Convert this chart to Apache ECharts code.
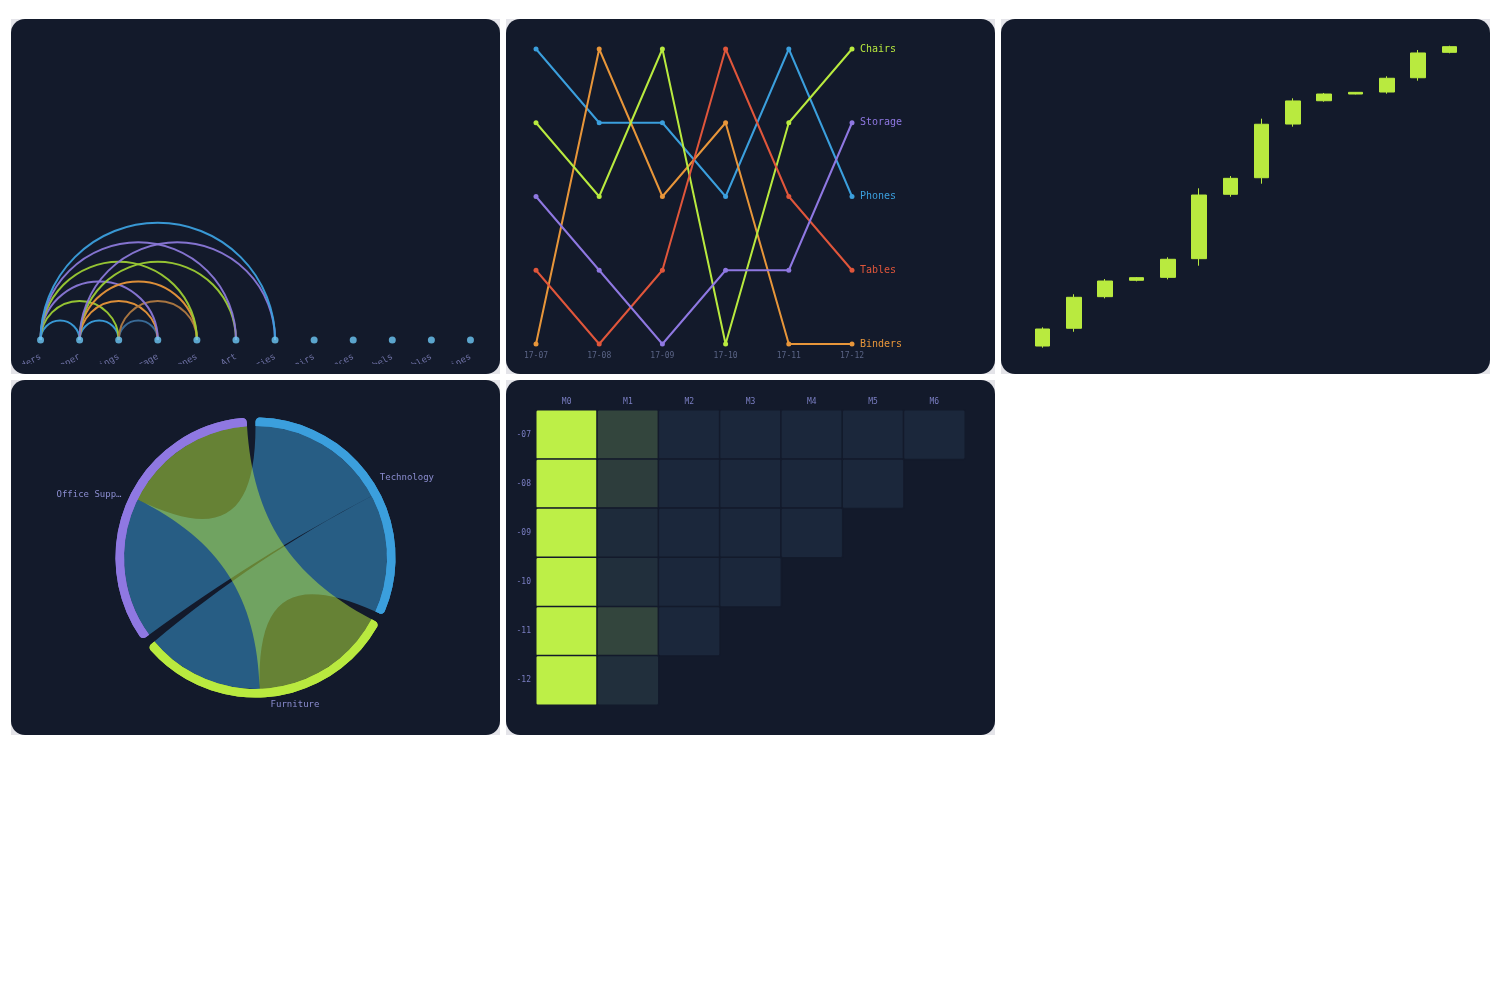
<!DOCTYPE html>
<html><head><meta charset="utf-8">
<script src="https://cdn.jsdelivr.net/npm/echarts@6/dist/echarts.min.js"></script>
<style>
html,body{margin:0;padding:0;background:#fff;width:1500px;height:1000px;overflow:hidden}
.cell{position:absolute;width:489px;height:355px;background:#e4e4e9}
.card{position:absolute;left:0;top:0;width:489px;height:355px;border-radius:14px;background:#131a2b;padding:10px;box-sizing:border-box}
.chart{width:469px;height:335px}
</style></head><body>
<div class="cell" style="left:11px;top:19px"><div class="card"><div id="c1" class="chart"></div></div></div>
<div class="cell" style="left:506px;top:19px"><div class="card"><div id="c2" class="chart"></div></div></div>
<div class="cell" style="left:1001px;top:19px"><div class="card"><div id="c3" class="chart"></div></div></div>
<div class="cell" style="left:11px;top:380px"><div class="card"><div id="c4" class="chart"></div></div></div>
<div class="cell" style="left:506px;top:380px"><div class="card"><div id="c5" class="chart"></div></div></div>
<script>
// ---------- DATA ----------
// Arc diagram
const arcNodes = ['Binders','Paper','Furnishings','Storage','Phones','Art','Accessories','Chairs','Appliances','Labels','Tables','Machines'];
const arcLinkSource = [0,1,2,0,1,2,0,1,0,1,0,1,0];
const arcLinkTarget = [1,2,3,2,3,4,3,4,4,5,5,6,6];
const arcLinkGroup  = [0,0,4,1,2,5,3,2,1,1,3,3,0];

// Bump chart (rank per month)
const bumpMonths = ['17-07','17-08','17-09','17-10','17-11','17-12'];
const bumpNames = ['Phones','Binders','Chairs','Tables','Storage'];
const rankPhones  = [1,2,2,3,1,3];
const rankBinders = [5,1,3,2,5,5];
const rankChairs  = [2,3,1,5,2,1];
const rankTables  = [4,5,4,1,3,4];
const rankStorage = [3,4,5,4,4,2];

// Candlestick
const candleCats  = ['1','2','3','4','5','6','7','8','9','10','11','12','13','14'];
const candleOpen  = [7.6,24.5,54.6,70.2,73.0,90.8,152.1,167.9,219.0,241.2,247.6,249.5,263.1,287.3];
const candleClose = [23.8,54.0,69.5,72.7,90.2,151.4,167.3,218.8,241.0,247.6,249.2,262.6,286.7,292.7];
const candleLow   = [6.0,21.2,53.0,69.2,71.1,84.1,149.8,162.2,216.5,240.3,247.3,247.9,260.3,286.4];
const candleHigh  = [25.4,56.9,71.4,73.3,92.1,157.8,169.5,224.1,243.5,248.6,249.5,264.5,289.5,293.6];

// Chord
const chordNodes  = ['Technology','Furniture','Office Supplies'];
const chordSource = ['Technology','Furniture','Technology'];
const chordTarget = ['Office Supplies','Office Supplies','Furniture'];
const chordValue  = [62,60,52];

// Cohort heatmap
const cohortRows = ['2017-07','2017-08','2017-09','2017-10','2017-11','2017-12'];
const cohortCols = ['M0','M1','M2','M3','M4','M5','M6'];
const ret07 = [100,16,1,1,1,1,1];
const ret08 = [100,12,1,1,1,1];
const ret09 = [100,3,1,1,1];
const ret10 = [100,5,1,1];
const ret11 = [100,16,1];
const ret12 = [100,5];

// ---------- STYLE ----------
const FONT = 'DejaVu Sans Mono';
const C = {blue:'#3b9fdd', orange:'#e8963a', lime:'#b9ea3f', red:'#e0563b', purple:'#8f78e2'};

// ---------- 1: Arc diagram ----------
(function(){
  const ch = echarts.init(document.getElementById('c1'));
  const arcPalette = [C.blue, '#9ccc34', C.orange, '#8a78d8', '#3b6f9c', '#b07a42'];
  ch.setOption({
    animation:false,
    grid:{left:0,right:0,top:10,bottom:24,outerBoundsMode:'none',containLabel:false},
    xAxis:{type:'category',data:arcNodes,boundaryGap:true,axisLine:{show:false},axisTick:{show:false},
      axisLabel:{rotate:30,interval:0,margin:16,fontSize:9,color:'#6f72a6',fontFamily:FONT}},
    yAxis:{type:'value',min:0,max:1,show:false,splitLine:{show:false}},
    series:[{
      type:'custom',coordinateSystem:'cartesian2d',clip:false,
      encode:{x:[0,1]},
      data:arcLinkSource.map((s,i)=>[s,arcLinkTarget[i],arcLinkGroup[i]]),
      renderItem:function(params,api){
        const a=api.coord([api.value(0),0]), b=api.coord([api.value(1),0]);
        const col = arcPalette[api.value(2)];
        return {type:'arc',shape:{cx:(a[0]+b[0])/2,cy:a[1],r:Math.abs(b[0]-a[0])/2,startAngle:Math.PI,endAngle:2*Math.PI,clockwise:true},
          style:{stroke:col,lineWidth:2,fill:null,opacity:0.95}};
      }
    },{
      type:'scatter',symbolSize:7,z:5,itemStyle:{color:'#6ec8f6'},
      data:arcNodes.map((n,i)=>[i,0])
    }]
  });
})();

// ---------- 2: Bump chart ----------
(function(){
  const ch = echarts.init(document.getElementById('c2'));
  const ranks = [rankPhones,rankBinders,rankChairs,rankTables,rankStorage];
  const cols = [C.blue,C.orange,C.lime,C.red,C.purple];
  ch.setOption({
    animation:false,
    grid:{left:20,right:133,top:20,bottom:20,outerBoundsMode:'none',containLabel:false},
    xAxis:{type:'category',data:bumpMonths,boundaryGap:false,axisLine:{show:false},axisTick:{show:false},
      axisLabel:{fontSize:8,color:'#5a6486',fontFamily:FONT,margin:8}},
    yAxis:{type:'value',inverse:true,min:1,max:5,show:false,splitLine:{show:false}},
    series:bumpNames.map((n,i)=>({
      name:n,type:'line',data:ranks[i],symbol:'circle',symbolSize:5,
      lineStyle:{width:2,color:cols[i]},itemStyle:{color:cols[i]},
      endLabel:{show:true,formatter:'{a}',color:cols[i],fontSize:10,fontFamily:FONT,distance:8}
    }))
  });
})();

// ---------- 3: Candlestick ----------
(function(){
  const ch = echarts.init(document.getElementById('c3'));
  ch.setOption({
    animation:false,
    grid:{left:16,right:15,top:10,bottom:10,outerBoundsMode:'none',containLabel:false},
    xAxis:{type:'category',data:candleCats,show:false},
    yAxis:{type:'value',min:0,max:300,show:false,splitLine:{show:false}},
    series:[{type:'candlestick',barWidth:15,
      data:candleOpen.map((o,i)=>[o,candleClose[i],candleLow[i],candleHigh[i]]),
      itemStyle:{color:C.lime,color0:C.lime,borderColor:C.lime,borderColor0:C.lime,borderWidth:1}}]
  });
})();

// ---------- 4: Chord ----------
(function(){
  const ch = echarts.init(document.getElementById('c4'));
  const nodeCols = {'Technology':C.blue,'Furniture':C.lime,'Office Supplies':C.purple};
  const base = {
    type:'chord',center:['50%','50%'],radius:['78.5%','83.6%'],startAngle:90,clockwise:true,padAngle:3.7,
    data:chordNodes.map(n=>({name:n,itemStyle:{color:nodeCols[n]}})),
    itemStyle:{borderWidth:0}
  };
  // two passes over the same links so that Furniture-sourced ribbons are painted above the others
  const pass = (top)=>Object.assign({}, base, {
    z: top?3:2,
    links:chordSource.map((s,i)=>({source:s,target:chordTarget[i],value:chordValue[i],
      lineStyle:{opacity: ((s==='Furniture')===top) ? 0.5 : 0}})),
    lineStyle:{color:'source',opacity:0.5},
    label: top ? {show:true,position:'outside',distance:8,color:'#8b8dd0',fontSize:9,fontFamily:FONT,width:68,overflow:'truncate',ellipsis:'…'} : {show:false},
    labelLayout: top ? function(){ return {verticalAlign:'middle'}; } : undefined
  });
  ch.setOption({animation:false, series:[pass(false), pass(true)]});
})();

// ---------- 5: Cohort heatmap ----------
(function(){
  const ch = echarts.init(document.getElementById('c5'));
  const rows=[ret07,ret08,ret09,ret10,ret11,ret12];
  const data=[];
  rows.forEach((r,ri)=>r.forEach((v,ci)=>data.push([ci,ri,v])));
  ch.setOption({
    animation:false,
    grid:{left:20,right:20,top:20,bottom:20,outerBoundsMode:'none',containLabel:false},
    xAxis:{type:'category',data:cohortCols,position:'top',axisLine:{show:false},axisTick:{show:false},splitLine:{show:false},
      axisLabel:{fontSize:8,color:'#7a7ec2',fontFamily:FONT,margin:4}},
    yAxis:{type:'category',data:cohortRows,inverse:true,axisLine:{show:false},axisTick:{show:false},splitLine:{show:false},
      axisLabel:{fontSize:8,color:'#7a7ec2',fontFamily:FONT,margin:5}},
    visualMap:{show:false,min:0,max:100,inRange:{color:['#19253b','#bdef47']}},
    series:[{type:'heatmap',data:data,itemStyle:{borderColor:'#131a2b',borderWidth:1.5,borderRadius:2}}]
  });
})();
</script>
</body></html>
